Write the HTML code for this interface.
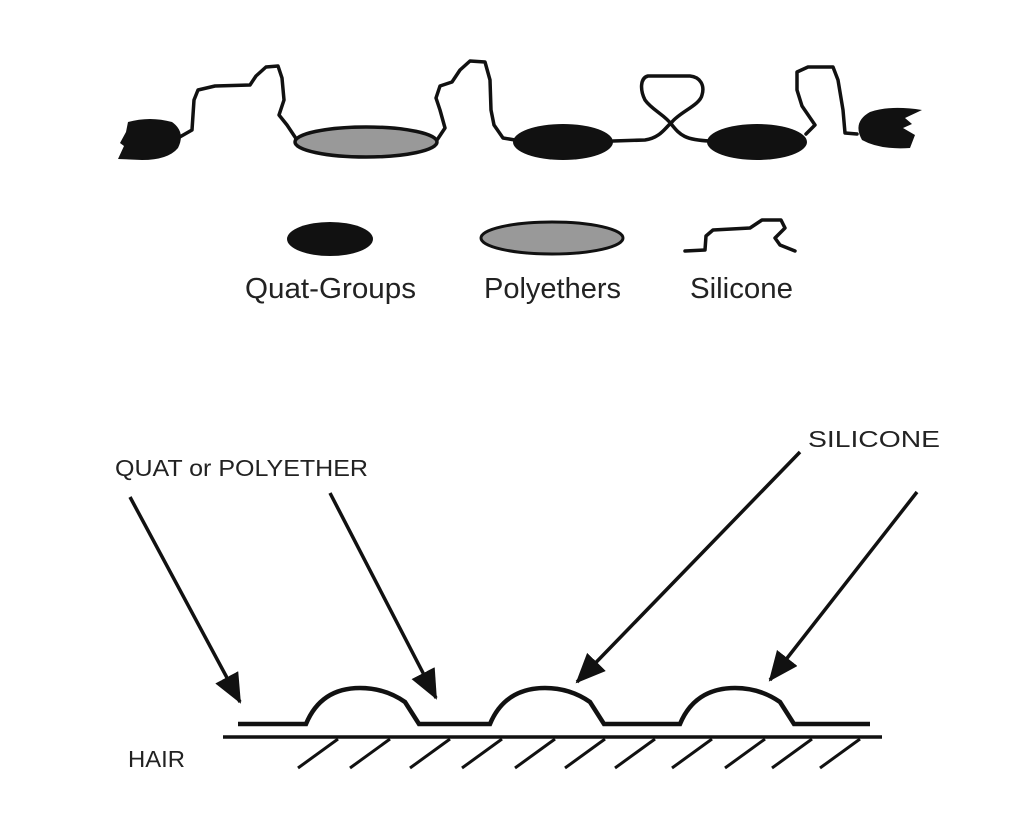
<!DOCTYPE html>
<html><head><style>
html,body{margin:0;padding:0;background:#fff;}
svg{display:block;}
text{font-family:"Liberation Sans",sans-serif;fill:#222;}
</style></head><body>
<svg width="1024" height="827" viewBox="0 0 1024 827">
<defs>
<marker id="a2" markerWidth="30" markerHeight="26" refX="28" refY="13" orient="auto" markerUnits="userSpaceOnUse"><path d="M0,0 L30,13 L0,26 z" fill="#111"/></marker></defs>
<g fill="none" stroke="#111" stroke-width="3.5" stroke-linejoin="round" stroke-linecap="round">
<path d="M178,138 L192,130 L194,100 L198,90 L215,86 L250,85 L256,76 L266,67 L278,66 L282,78 L284,100 L279,115 L287,125 L297,140"/>
<path d="M437,140 L445,128 L440,110 L436,98 L440,86 L452,82 L460,70 L470,61 L485,62 L490,80 L491,110 L494,125 L503,138 L515,140"/>
<path d="M613,141 L645,140 C660,138 665,128 672,122 C680,112 700,105 702,95 C705,85 700,77 690,76 L648,76 C640,78 640,90 645,100 C652,110 665,115 672,125 C680,135 685,140 710,141"/>
<path d="M806,134 L815,125 L802,106 L797,90 L797,72 L808,67 L833,67 L838,80 L843,110 L845,133 L857,134"/>
<path d="M685,251 L705,250 L706,236 L713,230 L750,228 L762,220 L781,220 L785,228 L775,238 L780,245 L795,251"/>
</g>
<ellipse cx="366" cy="142" rx="71" ry="15" fill="#999" stroke="#111" stroke-width="3.5"/>
<ellipse cx="563" cy="142" rx="50" ry="18" fill="#111"/>
<ellipse cx="757" cy="142" rx="50" ry="18" fill="#111"/>
<path d="M128,122 Q150,116 172,122 Q186,132 178,148 Q168,160 142,160 L118,159 L124,146 L120,143 L126,132 z" fill="#111"/>
<path d="M870,112 Q890,105 922,110 L905,118 L912,124 L903,128 L915,135 L910,148 Q880,150 862,140 Q852,122 870,112 z" fill="#111"/>
<ellipse cx="330" cy="239" rx="43" ry="17" fill="#111"/>
<ellipse cx="552" cy="238" rx="71" ry="16" fill="#999" stroke="#111" stroke-width="3"/>
<text x="245" y="298" font-size="29" textLength="171" lengthAdjust="spacingAndGlyphs">Quat-Groups</text>
<text x="484" y="298" font-size="29" textLength="137" lengthAdjust="spacingAndGlyphs">Polyethers</text>
<text x="690" y="298" font-size="29" textLength="103" lengthAdjust="spacingAndGlyphs">Silicone</text>
<text x="115" y="476" font-size="23" textLength="253" lengthAdjust="spacingAndGlyphs">QUAT or POLYETHER</text>
<text x="808" y="447" font-size="23" textLength="132" lengthAdjust="spacingAndGlyphs">SILICONE</text>
<text x="128" y="767" font-size="23" textLength="57" lengthAdjust="spacingAndGlyphs">HAIR</text>
<g stroke="#111" stroke-width="3.5" fill="none">
<line x1="130" y1="497" x2="240" y2="702" marker-end="url(#a2)"/>
<line x1="330" y1="493" x2="436" y2="698" marker-end="url(#a2)"/>
<line x1="800" y1="452" x2="577" y2="682" marker-end="url(#a2)"/>
<line x1="917" y1="492" x2="770" y2="680" marker-end="url(#a2)"/>
<path d="M238,724 L306,724 C318,695 340,688 360,688 C380,688 395,695 405,702 L419,724 L490,724 C502,695 525,688 545,688 C565,688 580,695 590,702 L604,724 L680,724 C692,695 715,688 735,688 C755,688 770,695 780,702 L794,724 L870,724" stroke-width="4.5"/>
<line x1="223" y1="737" x2="882" y2="737" stroke-width="3.5"/>
<g stroke-width="3">
<line x1="298" y1="768" x2="338" y2="739"/><line x1="350" y1="768" x2="390" y2="739"/><line x1="410" y1="768" x2="450" y2="739"/><line x1="462" y1="768" x2="502" y2="739"/><line x1="515" y1="768" x2="555" y2="739"/><line x1="565" y1="768" x2="605" y2="739"/><line x1="615" y1="768" x2="655" y2="739"/><line x1="672" y1="768" x2="712" y2="739"/><line x1="725" y1="768" x2="765" y2="739"/><line x1="772" y1="768" x2="812" y2="739"/><line x1="820" y1="768" x2="860" y2="739"/>
</g>
</g>
</svg>
</body></html>
